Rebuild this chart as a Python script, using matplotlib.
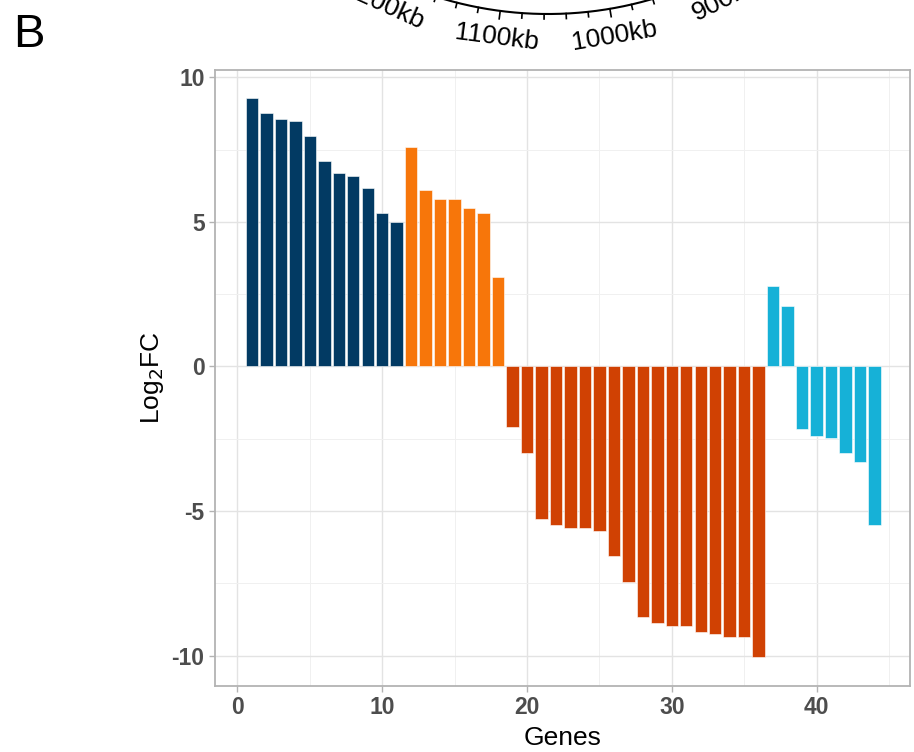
import numpy as np
import matplotlib
matplotlib.use("Agg")
import matplotlib.pyplot as plt
from matplotlib.ticker import MultipleLocator

# Datos
grupo1 = [9.28, 8.77, 8.57, 8.48, 7.98, 7.09, 6.68, 6.59, 6.18, 5.29, 4.99]
grupo2 = [7.59, 6.09, 5.79, 5.79, 5.49, 5.29, 3.10]
grupo3 = [-2.09, -2.99, -5.29, -5.48, -5.57, -5.57, -5.68, -6.57, -7.47,
          -8.67, -8.87, -8.97, -8.97, -9.17, -9.26, -9.36, -9.36, -10.06]
grupo4 = [2.79, 2.10, -2.18, -2.39, -2.48, -2.99, -3.29, -5.48]
colores = ["#023a63", "#f7760a", "#d04103", "#16b1d7"]

# etiquetas del arco (resto del panel A, cortado arriba)
arco_etiquetas = ["1200kb", "1100kb", "1000kb", "900kb"]
arco_angulos = [-24.4, -7.4, 9.6, 26.6]

plt.rcParams["font.family"] = ["Liberation Sans", "DejaVu Sans"]
plt.rcParams["axes.unicode_minus"] = False

fig = plt.figure(figsize=(9.14, 7.52), dpi=100)
ax = fig.add_axes([0.2352, 0.0878, 0.7604, 0.8191])

inicio = 1
for vals, col in zip([grupo1, grupo2, grupo3, grupo4], colores):
    x = np.arange(inicio, inicio + len(vals))
    ax.bar(x, vals, width=0.86, color=col, edgecolor="white", linewidth=0.4, zorder=3)
    inicio += len(vals)

ax.set_xlim(-1.55, 46.45)
ax.set_ylim(-11.05, 10.25)
ax.xaxis.set_major_locator(MultipleLocator(10))
ax.xaxis.set_minor_locator(MultipleLocator(5))
ax.yaxis.set_major_locator(MultipleLocator(5))
ax.yaxis.set_minor_locator(MultipleLocator(2.5))
ax.grid(which="major", color="#e3e3e3", linewidth=1.0, zorder=0)
ax.grid(which="minor", color="#f0f0f0", linewidth=0.7, zorder=0)
ax.set_axisbelow(True)
for s in ax.spines.values():
    s.set_color("#b3b3b3")
    s.set_linewidth(1.3)
ax.tick_params(which="major", length=4, color="#b3b3b3", width=1,
               labelsize=16.5, labelcolor="#4d4d4d")
ax.tick_params(which="minor", length=0)
for lab in ax.get_xticklabels() + ax.get_yticklabels():
    lab.set_fontweight("bold")

ax.set_xlabel("Genes", fontsize=19, labelpad=5)
ax.set_ylabel("Log$_2$FC", fontsize=19, labelpad=4)

fig.text(0.014, 0.9375, "B", fontsize=34)

# fragmento del circulo de arriba
arc = fig.add_axes([0, 0, 1, 1], zorder=-1)
arc.set_xlim(0, 914)
arc.set_ylim(752, 0)
arc.axis("off")
cx, cy, r = 548, -357, 371
t = np.radians(np.linspace(-30, 30, 300))
arc.plot(cx + r * np.sin(t), cy + r * np.cos(t), color="black", lw=1.5)
for i in range(-12, 13):
    ang = np.radians(-7.4 + i * 3.4)
    largo = 8 if i % 5 == 0 else 5
    arc.plot([cx + r * np.sin(ang), cx + (r + largo) * np.sin(ang)],
             [cy + r * np.cos(ang), cy + (r + largo) * np.cos(ang)], color="black", lw=1.2)
for lab, a in zip(arco_etiquetas, arco_angulos):
    ang = np.radians(a)
    arc.text(cx + 398 * np.sin(ang), cy + 398 * np.cos(ang), lab, fontsize=19,
             rotation=a, ha="center", va="center", rotation_mode="anchor")

fig.savefig("out.png", dpi=100)
